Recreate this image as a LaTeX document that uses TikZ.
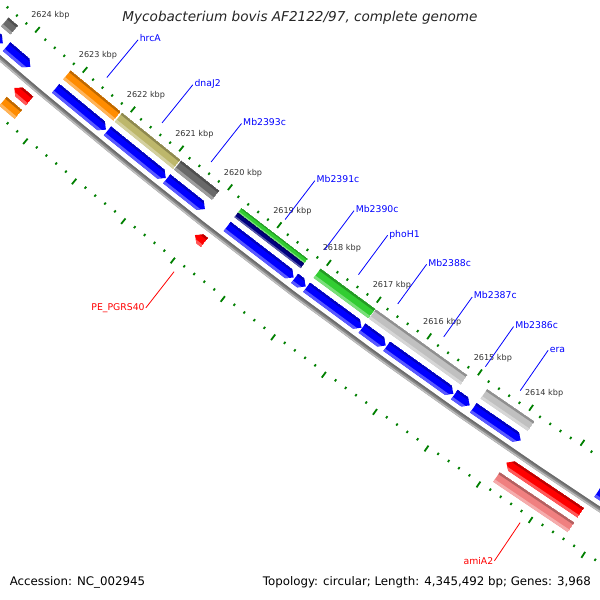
\documentclass[tikz,border=0pt]{standalone}
\usepackage{fontspec}
\setmainfont{DejaVu Sans}[ItalicFont={DejaVu Sans Oblique}]
\definecolor{cdsblue}{RGB}{0,0,255}
\definecolor{cdsred}{RGB}{255,0,0}
\definecolor{cogorange}{RGB}{255,140,0}
\definecolor{cogkhaki}{RGB}{189,183,107}
\definecolor{cogdim}{RGB}{105,105,105}
\definecolor{coggreen}{RGB}{50,205,50}
\definecolor{cognavy}{RGB}{0,0,128}
\definecolor{cogsilver}{RGB}{192,192,192}
\definecolor{cogcoral}{RGB}{240,128,128}
\definecolor{tickgreen}{RGB}{0,128,0}
\definecolor{backbone}{RGB}{135,135,135}
\definecolor{kbptext}{RGB}{51,51,51}

\begin{document}
\begin{tikzpicture}[x=1pt, y=-1pt,
    declare function={ph(\q)=127.44+(\q-2619)*0.594;},
    tickmark/.style={tickgreen, line width=1.8pt},
    ticklabel/.style={text=kbptext, inner sep=0pt, font=\fontsize{8.1}{9}\selectfont},
    genelabel/.style={inner sep=0pt, font=\fontsize{9.3}{11}\selectfont},
    revline/.style={cdsblue, line width=0.8pt},
    fwdline/.style={cdsred, line width=0.8pt}]
  \useasboundingbox (0,0) rectangle (600,600);
  \fill[white] (0,0) rectangle (600,600);

  \begin{scope}
    \clip (0,0) rectangle (600,600);
    % map circle, centre far above the view
    \begin{scope}[shift={(3926.7,-4538.5)}]
      % Ticks, every 200 bp
      \foreach \i in {-3,...,64} {
        \pgfmathsetmacro\tang{ph(2612+\i*0.2)}
        \pgfmathtruncatemacro\tmod{mod(\i,5)}
        \ifnum\tmod=0
          \draw[tickmark] (\tang:5996.5) -- (\tang:6003.5);
          \draw[tickmark] (\tang:6089.5) -- (\tang:6096.5);
        \else
          \draw[tickmark] (\tang:6001.2) -- (\tang:6003.7);
          \draw[tickmark] (\tang:6089.3) -- (\tang:6091.8);
        \fi
      }
      \foreach \kb in {2614,...,2624}
        \node[ticklabel, xshift=13pt, yshift=14.5pt] (kbp\kb) at ({ph(\kb)}:6000) {\kb\ kbp};

      % Backbone
      \draw[backbone, line width=5pt] plot[domain=122.8:131.3, samples=40] (\x:6046);
      \draw[backbone!80!black, line width=1.6pt] plot[domain=122.8:131.3, samples=40] (\x:6044.3);
      \draw[backbone!55!white, line width=1.6pt] plot[domain=122.8:131.3, samples=40] (\x:6047.7);

      % Features: from/to/inner offset/width/colour/arrow (0 none, 1 low end, 2 high end)
      \foreach \fa/\fb/\ft/\fw/\fc/\fk in {
          2624.48/2624.28/9.5/11.5/cogdim/0,
          2623.17/2622.13/9.5/11.5/cogorange/0,
          2622.10/2620.90/9.5/11.5/cogkhaki/0,
          2620.88/2620.10/9.5/11.5/cogdim/0,
          2619.65/2618.31/9.5/5.75/coggreen/0,
          2619.65/2618.31/15.25/5.75/cognavy/0,
          2618.05/2616.96/9.5/11.5/coggreen/0,
          2616.95/2615.14/9.5/11.5/cogsilver/0,
          2614.75/2613.83/9.5/11.5/cogsilver/0,
          2624.48/2624.28/27/11.5/cdsblue/1,
          2624.20/2623.70/27/11.5/cdsblue/1,
          2623.17/2622.13/27/11.5/cdsblue/1,
          2622.10/2620.90/27/11.5/cdsblue/1,
          2620.88/2620.10/27/11.5/cdsblue/1,
          2619.65/2618.31/27/11.5/cdsblue/1,
          2618.29/2618.07/27/11.5/cdsblue/1,
          2618.05/2616.96/27/11.5/cdsblue/1,
          2616.95/2616.48/27/11.5/cdsblue/1,
          2616.46/2615.15/27/11.5/cdsblue/1,
          2615.13/2614.83/27/11.5/cdsblue/1,
          2614.76/2613.84/27/11.5/cdsblue/1,
          2612.36/2611.20/27/11.5/cdsblue/1,
          2623.68/2623.36/53.5/11.5/cdsred/2,
          2619.97/2619.78/53.5/11.5/cdsred/2,
          2613.83/2612.40/53.5/11.5/cdsred/2,
          2623.68/2623.36/71/11.5/cogorange/0,
          2613.83/2612.40/71/11.5/cogcoral/0} {
        \pgfmathsetmacro\rin{6000+\ft}
        \pgfmathsetmacro\rout{\rin+\fw}
        \pgfmathsetmacro\rmid{\rin+\fw/2}
        \pgfmathsetmacro\rdark{\rin+0.2*\fw}
        \pgfmathsetmacro\rlight{\rout-0.25*\fw}
        \pgfmathsetmacro\angA{ph(\fa)}
        \pgfmathsetmacro\angB{ph(\fb)}
        \pgfmathsetmacro\baseA{ph(max(\fb,\fa-0.1))}
        \pgfmathsetmacro\baseB{ph(min(\fa,\fb+0.1))}
        \begin{scope}
          \ifcase\fk
            \clip (\angA:\rin) -- (\angB:\rin) -- (\angB:\rout) -- (\angA:\rout) -- cycle;
          \or
            \clip (\angA:\rin) -- (\baseB:\rin) -- (\angB:\rmid) -- (\baseB:\rout) -- (\angA:\rout) -- cycle;
          \or
            \clip (\baseA:\rin) -- (\angB:\rin) -- (\angB:\rout) -- (\baseA:\rout) -- (\angA:\rmid) -- cycle;
          \fi
          \fill[fill=\fc] (\angA:\rin) -- (\angB:\rin) -- (\angB:\rout) -- (\angA:\rout) -- cycle;
          \fill[fill=\fc!75!black] (\angA:\rin) -- (\angB:\rin) -- (\angB:\rdark) -- (\angA:\rdark) -- cycle;
          \fill[fill=\fc!65!white] (\angA:\rlight) -- (\angB:\rlight) -- (\angB:\rout) -- (\angA:\rout) -- cycle;
        \end{scope}
      }

      % Labels, reverse strand
      \foreach \gp/\nm in {2622.65/hrcA, 2621.50/dnaJ2, 2620.49/Mb2393c, 2618.98/Mb2391c,
          2618.18/Mb2390c, 2617.505/phoH1, 2616.715/Mb2388c, 2615.805/Mb2387c,
          2614.98/Mb2386c, 2614.30/era} {
        \coordinate (\nm-foot) at ({ph(\gp)}:5992);
        \coordinate (\nm-head) at ({ph(\gp)}:5943);
        \draw[revline] (\nm-foot) -- (\nm-head);
        \node[genelabel, text=cdsblue, anchor=base west, xshift=1.5pt, yshift=-2pt] (\nm) at (\nm-head) {\nm};
      }
      % Labels, forward strand
      \foreach \gp/\nm/\txt in {2619.875/pepgrs/PE\_PGRS40, 2613.115/amiA2/amiA2} {
        \coordinate (\nm-foot) at ({ph(\gp)}:6101);
        \coordinate (\nm-head) at ({ph(\gp)}:6147);
        \draw[fwdline] (\nm-foot) -- (\nm-head);
        \node[genelabel, text=cdsred, anchor=east, xshift=-1pt] (\nm) at (\nm-head) {\txt};
      }
    \end{scope}
  \end{scope}

  % Title and legend
  \node[anchor=base, inner sep=0pt, text=black!85, font=\fontsize{13.6}{16}\selectfont\itshape] (title) at (300,21.7) {Mycobacterium bovis AF2122/97, complete genome};
  \node[anchor=base west, inner sep=0pt, font=\fontsize{11.8}{14}\selectfont] (accession) at (9.6,585.5) {Accession: NC\_002945};
  \node[anchor=base east, inner sep=0pt, font=\fontsize{11.8}{14}\selectfont] (topology) at (591,585.5) {Topology: circular; Length: 4,345,492 bp; Genes: 3,968};
\end{tikzpicture}
\end{document}
